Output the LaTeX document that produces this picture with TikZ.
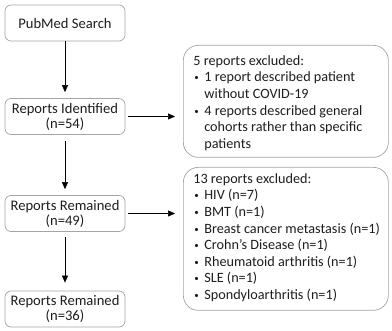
\documentclass[tikz,border=0pt]{standalone}
\usepackage{fontspec}
\setmainfont{Carlito}
\usetikzlibrary{arrows.meta}
\definecolor{boxgray}{RGB}{165,165,165}
\definecolor{txt}{RGB}{30,30,30}
\newcommand{\bul}{\makebox[11pt][l]{\hspace*{1pt}\raisebox{1pt}{\fontsize{9}{9}\selectfont•}}}
\newcommand{\ind}{\hspace*{11pt}}
\begin{document}
\begin{tikzpicture}[x=1pt,y=-1pt,
  stagebox/.style={draw=boxgray,line width=0.7pt,rounded corners=6pt,fill=white,
    minimum width=120pt,minimum height=36pt,align=center,inner sep=0pt,
    text=txt,font=\fontsize{14.6}{15}\selectfont},
  exclbox/.style={draw=boxgray,line width=0.7pt,rounded corners=15pt,fill=white,
    inner sep=0pt,text=txt,font=\fontsize{14.2}{16.6}\selectfont},
  arr/.style={-{Triangle[length=7pt,width=6pt]},line width=0.6pt,black}]
\useasboundingbox (0,0) rectangle (392,331);
\node[stagebox] (pub) at (65,23) {PubMed Search};
\node[stagebox] (ident) at (65,116.5) {Reports Identified\\(n=54)};
\node[stagebox] (rem1) at (65,213.5) {Reports Remained\\(n=49)};
\node[stagebox] (rem2) at (65,309) {Reports Remained\\(n=36)};
\node[exclbox,anchor=north west] (ex1) at (183,45) {\parbox[c][112pt][t]{205pt}{\vspace*{10pt}%
\hspace*{10pt}5 reports excluded:\\
\hspace*{10pt}\bul 1 report described patient\\
\hspace*{10pt}\ind without COVID-19\\
\hspace*{10pt}\bul 4 reports described general\\
\hspace*{10pt}\ind cohorts rather than specific\\
\hspace*{10pt}\ind patients}};
\node[exclbox,anchor=north west] (ex2) at (183,167) {\parbox[c][143pt][t]{205pt}{\vspace*{6pt}%
\hspace*{10pt}13 reports excluded:\\
\hspace*{10pt}\bul HIV (n=7)\\
\hspace*{10pt}\bul BMT (n=1)\\
\hspace*{10pt}\bul Breast cancer metastasis (n=1)\\
\hspace*{10pt}\bul Crohn’s Disease (n=1)\\
\hspace*{10pt}\bul Rheumatoid arthritis (n=1)\\
\hspace*{10pt}\bul SLE (n=1)\\
\hspace*{10pt}\bul Spondyloarthritis (n=1)}};
\draw[arr,shorten <=0pt,shorten >=6pt] (pub.south) -- (ident.north);
\draw[arr,shorten <=6pt,shorten >=6pt] (ident.south) -- (rem1.north);
\draw[arr,shorten <=5pt,shorten >=8pt] (rem1.south) -- (rem2.north);
\draw[arr,shorten <=3pt,shorten >=8pt] (ident.east) -- (ident.east -| ex1.west);
\draw[arr,shorten <=3pt,shorten >=8pt] (rem1.east) -- (rem1.east -| ex2.west);
\end{tikzpicture}
\end{document}
